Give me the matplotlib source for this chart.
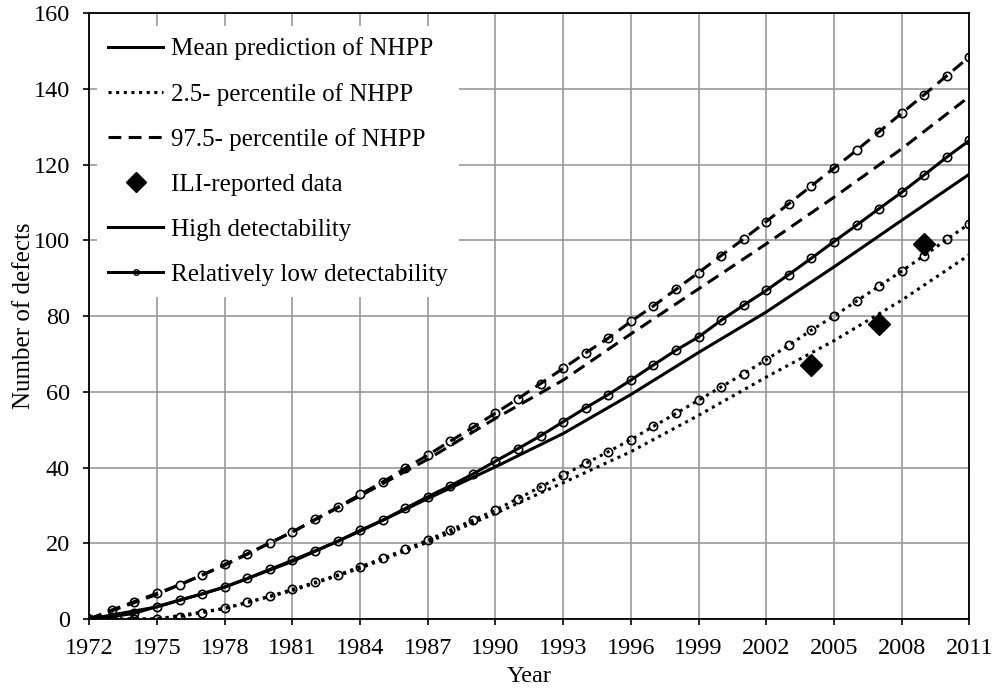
import numpy as np
import matplotlib.pyplot as plt
from matplotlib.lines import Line2D

plt.rcParams['font.family'] = ['Liberation Serif', 'DejaVu Serif']

# yearly predictions, relatively low detectability (circle markers)
years = np.arange(1972, 2012)
mean_low = [0, 0.6, 1.5, 3.3, 5.0, 6.6, 8.5, 10.7, 13.1, 15.5,
            18.0, 20.5, 23.4, 26.1, 29.2, 32.3, 35.2, 38.3, 41.7, 45.0,
            48.4, 52.1, 55.8, 59.3, 63.1, 67.1, 71.0, 74.5, 78.9, 82.9,
            86.8, 91.0, 95.3, 99.7, 104.0, 108.4, 112.7, 117.3, 122.0, 126.4]
p025_low = [0, 0, 0, 0, 0.6, 1.7, 2.8, 4.4, 6.0, 7.8,
            9.7, 11.6, 13.8, 16.0, 18.4, 20.8, 23.5, 26.1, 28.8, 31.8,
            34.9, 38.0, 41.1, 44.2, 47.4, 50.9, 54.3, 57.8, 61.3, 64.8,
            68.5, 72.3, 76.3, 80.0, 84.0, 87.9, 91.9, 96.0, 100.3, 104.4]
p975_low = [0, 2.4, 4.6, 6.8, 9.0, 11.6, 14.4, 17.2, 20.1, 23.0,
            26.3, 29.5, 32.9, 36.2, 39.8, 43.3, 47.0, 50.6, 54.4, 58.2,
            62.2, 66.2, 70.3, 74.2, 78.6, 82.7, 87.1, 91.5, 96.0, 100.4,
            105.0, 109.7, 114.4, 119.1, 123.8, 128.7, 133.6, 138.5, 143.5, 148.5]

# high detectability (no markers)
hi_years = np.arange(1972, 2012, 3)
mean_high = [0, 3.2, 8.4, 15.2, 23.2, 31.8, 40.2, 49.0, 59.3, 70.4, 81.1, 93.0, 105.3, 117.5]
p025_high = [0, 0, 2.8, 7.5, 13.4, 20.3, 27.9, 36.0, 44.2, 53.8, 63.9, 73.5, 84.2, 96.2]
p975_high = [0, 6.5, 14.2, 23.0, 32.5, 42.2, 53.0, 63.1, 75.3, 87.2, 99.1, 111.4, 124.2, 138.0]

# ILI-reported defects
ili_years = [2004, 2007, 2009]
ili_counts = [67, 78, 99]

dotted = (0, (1, 1.5))
dashed = (0, (4.2, 2.4))
lw = 2.2

fig = plt.figure(figsize=(9.95, 6.89), dpi=100)
ax = fig.add_axes([0.0898, 0.1016, 0.8844, 0.8791])

ax.plot(hi_years, mean_high, color='black', lw=lw)
ax.plot(hi_years, p025_high, color='black', lw=lw, linestyle=dotted)
ax.plot(hi_years, p975_high, color='black', lw=lw, linestyle=dashed)

mk = dict(marker='o', markersize=6, markerfacecolor='none',
          markeredgecolor='black', markeredgewidth=1.2)
ax.plot(years, mean_low, color='black', lw=lw, **mk)
ax.plot(years, p025_low, color='black', lw=lw, linestyle=dotted, **mk)
ax.plot(years, p975_low, color='black', lw=lw, linestyle=dashed, **mk)

ax.plot(ili_years, ili_counts, 'D', color='black', markersize=11, linestyle='none')

ax.set_xlim(1972, 2011)
ax.set_ylim(0, 160)
ax.set_xticks(np.arange(1972, 2012, 3))
ax.set_yticks(np.arange(0, 161, 20))
ax.grid(True, color='#999999', lw=1.2)
ax.set_axisbelow(True)
for s in ax.spines.values():
    s.set_linewidth(1.3)
ax.tick_params(direction='out', length=4, width=1.2, labelsize=17.5, pad=10)

ax.set_xlabel('Year', fontsize=17.5, labelpad=5)
ax.set_ylabel('Number of defects', fontsize=18, labelpad=-1)

handles = [
    Line2D([], [], color='black', lw=lw),
    Line2D([], [], color='black', lw=lw, linestyle=dotted),
    Line2D([], [], color='black', lw=lw, linestyle=dashed),
    Line2D([], [], color='black', marker='D', markersize=10, linestyle='none'),
    Line2D([], [], color='black', lw=lw),
    Line2D([], [], color='black', lw=lw, marker='o', markersize=4,
           markerfacecolor='none', markeredgewidth=1),
]
labels = ['Mean prediction of NHPP', '2.5- percentile of NHPP',
          '97.5- percentile of NHPP', 'ILI-reported data',
          'High detectability', 'Relatively low detectability']
leg = ax.legend(handles, labels, loc='upper left', bbox_to_anchor=(0.0085, 0.979),
                fontsize=18, frameon=True, fancybox=False, framealpha=1,
                facecolor='white', edgecolor='none',
                handlelength=2.2, handletextpad=0.3, labelspacing=0.9,
                borderpad=0.45, borderaxespad=0)

fig.savefig('out.png', dpi=100)
